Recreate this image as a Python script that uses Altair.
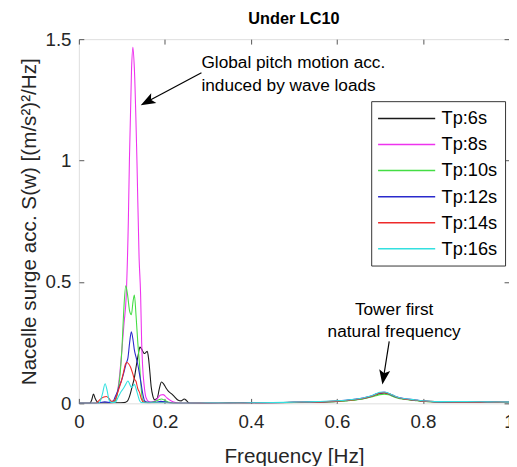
import altair as alt
import pandas as pd

SERIES = ["Tp:6s", "Tp:8s", "Tp:10s", "Tp:12s", "Tp:14s", "Tp:16s"]
COLORS = ["#1a1a1a", "#ee33ee", "#44dd44", "#2a2acc", "#ee2a2a", "#33e0e0"]

# low-frequency (wave) region, per series
F_6 = [0.0, 0.025, 0.03, 0.034, 0.038, 0.045, 0.06, 0.09, 0.105, 0.112, 0.118, 0.124, 0.129, 0.134, 0.138,
       0.142, 0.147, 0.152, 0.156, 0.159, 0.162, 0.165, 0.168, 0.172, 0.176, 0.182, 0.187, 0.192, 0.197,
       0.203, 0.209, 0.215, 0.222, 0.23, 0.238, 0.245, 0.25, 0.256]
V_6 = [0.0, 0.0, 0.015, 0.038, 0.02, 0.003, 0.002, 0.002, 0.003, 0.008, 0.03, 0.07, 0.105, 0.16, 0.2,
       0.232, 0.22, 0.205, 0.21, 0.214, 0.185, 0.13, 0.07, 0.03, 0.015, 0.02, 0.06, 0.088, 0.08,
       0.062, 0.048, 0.04, 0.028, 0.014, 0.01, 0.018, 0.012, 0.001]

F_8 = [0.0, 0.075, 0.08, 0.085, 0.09, 0.095, 0.1, 0.105, 0.11, 0.115, 0.1175, 0.1225, 0.1256, 0.129,
       0.135, 0.14, 0.1435, 0.146, 0.148, 0.152, 0.156, 0.162, 0.17, 0.18, 0.19, 0.196, 0.205, 0.215,
       0.225, 0.24]
V_8 = [0.0, 0.0, 0.003, 0.01, 0.05, 0.12, 0.22, 0.33, 0.44, 0.75, 1.0, 1.38, 1.467, 1.38,
       1.0, 0.6, 0.45, 0.25, 0.16, 0.07, 0.024, 0.008, 0.005, 0.015, 0.034, 0.036, 0.022, 0.01,
       0.003, 0.0]

F_10 = [0.0, 0.07, 0.08, 0.085, 0.09, 0.095, 0.1, 0.104, 0.109, 0.113, 0.118, 0.122, 0.126, 0.129,
        0.133, 0.137, 0.141, 0.145, 0.148, 0.155, 0.165, 0.175, 0.185, 0.192, 0.2, 0.21, 0.22]
V_10 = [0.0, 0.0, 0.003, 0.012, 0.045, 0.105, 0.22, 0.37, 0.484, 0.45, 0.38, 0.365, 0.42, 0.446,
        0.36, 0.25, 0.16, 0.06, 0.015, 0.005, 0.003, 0.006, 0.014, 0.018, 0.012, 0.004, 0.0]

F_12 = [0.0, 0.04, 0.05, 0.06, 0.07, 0.08, 0.084, 0.09, 0.095, 0.099, 0.105, 0.11, 0.114, 0.118, 0.122,
        0.126, 0.129, 0.133, 0.137, 0.141, 0.145, 0.149, 0.153, 0.16, 0.18, 0.19, 0.2, 0.21, 0.22]
V_12 = [0.0, 0.0, 0.003, 0.006, 0.004, 0.01, 0.025, 0.05, 0.075, 0.093, 0.13, 0.165, 0.186, 0.25, 0.295,
        0.26, 0.22, 0.19, 0.16, 0.12, 0.078, 0.035, 0.01, 0.004, 0.004, 0.008, 0.006, 0.002, 0.0]

F_14 = [0.0, 0.04, 0.045, 0.052, 0.058, 0.064, 0.07, 0.076, 0.082, 0.0875, 0.093, 0.099, 0.104, 0.108,
        0.112, 0.116, 0.12, 0.1256, 0.129, 0.133, 0.137, 0.141, 0.145, 0.15, 0.16, 0.2, 0.22]
V_14 = [0.0, 0.0, 0.008, 0.02, 0.026, 0.028, 0.02, 0.008, 0.01, 0.03, 0.06, 0.093, 0.13, 0.16,
        0.168, 0.162, 0.15, 0.12, 0.1, 0.09, 0.06, 0.045, 0.02, 0.005, 0.002, 0.003, 0.0]

F_16 = [0.0, 0.045, 0.05, 0.055, 0.061, 0.066, 0.07, 0.075, 0.085, 0.091, 0.097, 0.103, 0.108, 0.114,
        0.118, 0.122, 0.126, 0.129, 0.133, 0.137, 0.141, 0.146, 0.16, 0.2, 0.22]
V_16 = [0.0, 0.0, 0.01, 0.04, 0.081, 0.05, 0.015, 0.004, 0.005, 0.024, 0.045, 0.06, 0.075, 0.092,
        0.08, 0.065, 0.072, 0.078, 0.06, 0.035, 0.012, 0.003, 0.002, 0.002, 0.0]

# high-frequency region (tower first natural frequency)
TAIL_F = [0.26, 0.3, 0.35, 0.4, 0.45, 0.5, 0.55, 0.6, 0.62, 0.64, 0.66, 0.68, 0.69, 0.70, 0.71, 0.72,
          0.73, 0.74, 0.76, 0.78, 0.80, 0.85, 0.9, 0.95, 1.0]
TAIL_6 = [0, 0, 0.001, 0.001, 0.002, 0.004, 0.005, 0.008, 0.011, 0.014, 0.019, 0.028, 0.034, 0.041, 0.043,
          0.039, 0.031, 0.024, 0.017, 0.013, 0.009, 0.006, 0.005, 0.005, 0.004]
TAIL_8 = [0, 0, 0.001, 0.001, 0.002, 0.004, 0.006, 0.009, 0.012, 0.016, 0.022, 0.03, 0.037, 0.044, 0.047,
          0.041, 0.033, 0.026, 0.019, 0.015, 0.01, 0.006, 0.006, 0.005, 0.004]
TAIL_10 = [0, 0, 0.001, 0.001, 0.002, 0.003, 0.005, 0.008, 0.01, 0.013, 0.018, 0.026, 0.031, 0.036, 0.038,
           0.035, 0.028, 0.022, 0.016, 0.012, 0.008, 0.005, 0.005, 0.004, 0.004]
TAIL_12 = [0, 0, 0.001, 0.002, 0.002, 0.004, 0.006, 0.01, 0.013, 0.017, 0.021, 0.03, 0.038, 0.042, 0.045,
           0.04, 0.032, 0.025, 0.018, 0.014, 0.01, 0.006, 0.006, 0.005, 0.004]
TAIL_14 = [0, 0, 0.001, 0.001, 0.002, 0.004, 0.005, 0.009, 0.012, 0.015, 0.02, 0.029, 0.036, 0.043, 0.044,
           0.04, 0.033, 0.025, 0.017, 0.014, 0.009, 0.006, 0.005, 0.005, 0.004]
TAIL_16 = [0, 0.001, 0.001, 0.002, 0.003, 0.005, 0.007, 0.011, 0.013, 0.017, 0.022, 0.031, 0.038, 0.046, 0.047,
           0.042, 0.034, 0.026, 0.019, 0.015, 0.011, 0.007, 0.007, 0.006, 0.005]

X_TICKS = [0, 0.2, 0.4, 0.6, 0.8, 1.0]
Y_TICKS = [0, 0.5, 1.0, 1.5]

# annotations (data coordinates)
NOTE_F = [0.285, 0.285, 0.733, 0.733]
NOTE_V = [1.4025, 1.305, 0.385, 0.292]
NOTE_T = ["Global pitch motion acc.", "induced by wave loads", "Tower first", "natural frequency"]
NOTE_A = ["left", "left", "center", "center"]
ARROW_F = [0.285, 0.7215]
ARROW_V = [1.362, 0.2554]
HEAD_F = [0.1628, 0.709]
HEAD_V = [1.246, 0.1147]
HEAD_ANGLE = [242, 189]

FONT = "Liberation Sans"

low = [(F_6, V_6, TAIL_6), (F_8, V_8, TAIL_8), (F_10, V_10, TAIL_10),
       (F_12, V_12, TAIL_12), (F_14, V_14, TAIL_14), (F_16, V_16, TAIL_16)]
rows = []
for k, (fs, vs, tail) in enumerate(low):
    ff = list(fs) + TAIL_F
    vv = list(vs) + tail
    for i, (f, v) in enumerate(zip(ff, vv)):
        rows.append({"s": SERIES[k], "k": k, "i": i, "f": f, "v": v})
df = pd.DataFrame(rows)

xscale = alt.Scale(domain=[0, 1], nice=False, zero=False)
yscale = alt.Scale(domain=[0, 1.5], nice=False)

axis_common = dict(domain=False, offset=-5, tickSize=5, tickColor="#555555", grid=False,
                   labelFont=FONT, labelFontSize=19, labelColor="#262626",
                   titleFont=FONT, titleFontWeight="normal", titleColor="#262626",
                   labelFlush=False, labelOverlap=False, format="~g")

lines = alt.Chart(df).mark_line(strokeWidth=1.1, interpolate="monotone", clip=True).encode(
    x=alt.X("f:Q", scale=xscale, title="Frequency [Hz]",
            axis=alt.Axis(orient="bottom", values=X_TICKS, labelPadding=10, titlePadding=14,
                          titleFontSize=21, **axis_common)),
    y=alt.Y("v:Q", scale=yscale, title="Nacelle surge acc. S(w) [(m/s²)²/Hz]",
            axis=alt.Axis(orient="left", values=Y_TICKS, labelPadding=8, titlePadding=6,
                          titleFontSize=21, **axis_common)),
    color=alt.Color("s:N", scale=alt.Scale(domain=SERIES, range=COLORS),
                    legend=alt.Legend(orient="none", legendX=297, legendY=63, title=None,
                                      symbolType="M-3,0H3", symbolSize=374, symbolStrokeWidth=1.5,
                                      symbolOffset=18.5, labelOffset=25,
                                      labelFont=FONT, labelFontSize=18.5, labelColor="#000000",
                                      strokeColor="#333333", fillColor="white", padding=7,
                                      rowPadding=6.5)),
    detail="k:Q",
    order=alt.Order("i:Q"),
)

frame_axis = dict(domain=False, offset=-5, tickSize=5, tickColor="#555555", grid=False,
                  labels=False, title=None)
frame = alt.Chart(df).mark_point(opacity=0).encode(
    x=alt.X("f:Q", scale=xscale, axis=alt.Axis(orient="top", values=X_TICKS, **frame_axis)),
    y=alt.Y("v:Q", scale=yscale, axis=alt.Axis(orient="right", values=Y_TICKS, **frame_axis)),
)

notes = pd.DataFrame({"f": NOTE_F, "v": NOTE_V, "t": NOTE_T, "a": NOTE_A})
text_left = alt.Chart(notes[notes.a == "left"]).mark_text(
    align="left", baseline="middle", font=FONT, fontSize=17.5, color="#000000").encode(
    x=alt.X("f:Q", scale=xscale, axis=None), y=alt.Y("v:Q", scale=yscale, axis=None), text="t:N")
text_center = alt.Chart(notes[notes.a == "center"]).mark_text(
    align="center", baseline="middle", font=FONT, fontSize=17.5, color="#000000").encode(
    x=alt.X("f:Q", scale=xscale, axis=None), y=alt.Y("v:Q", scale=yscale, axis=None), text="t:N")

arrows = pd.DataFrame({"f": ARROW_F, "v": ARROW_V, "f2": HEAD_F, "v2": HEAD_V, "a": HEAD_ANGLE})
shafts = alt.Chart(arrows).mark_rule(strokeWidth=1.2, color="#000000").encode(
    x=alt.X("f:Q", scale=xscale, axis=None), y=alt.Y("v:Q", scale=yscale, axis=None),
    x2="f2:Q", y2="v2:Q")
heads = alt.Chart(arrows).mark_point(
    shape="M0,-1L0.6,0.6L0,0.25L-0.6,0.6Z", filled=True, size=350, color="#000000", opacity=1).encode(
    x=alt.X("f2:Q", scale=xscale, axis=None), y=alt.Y("v2:Q", scale=yscale, axis=None),
    angle=alt.Angle("a:Q", scale=None))

chart = alt.layer(lines, frame, text_left, text_center, shafts, heads).resolve_axis(
    x="independent", y="independent"
).properties(
    width=437, height=370,
    padding={"left": 72, "top": 28, "right": 0, "bottom": 60},
    autosize="none",
    title=alt.TitleParams("Under LC10", font=FONT, fontSize=16.5, fontWeight="bold",
                          color="#000000", anchor="middle", offset=3),
).configure_view(stroke="#666666", strokeWidth=1).configure(background="white")

chart.save("out.html", embed_options={"renderer": "svg", "actions": False})
